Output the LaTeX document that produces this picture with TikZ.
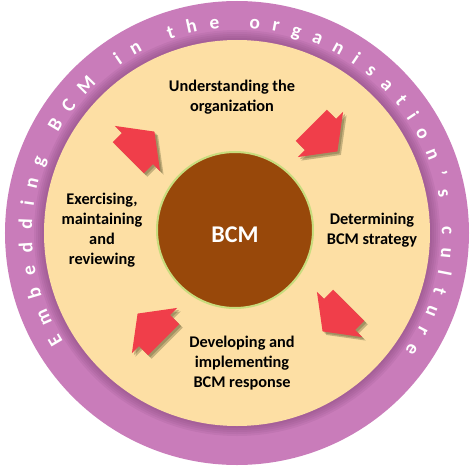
\documentclass[tikz,border=0pt]{standalone}
\usepackage{fontspec}
\setmainfont{Carlito}
\usetikzlibrary{decorations.text}

\definecolor{ringpurple}{RGB}{201,124,186}
\definecolor{ringshade}{RGB}{120,60,110}
\definecolor{discbeige}{RGB}{253,223,164}
\definecolor{corebrown}{RGB}{152,72,10}
\definecolor{coreedge}{RGB}{200,220,125}
\definecolor{arrowred}{RGB}{240,62,74}
\definecolor{arrowshade}{RGB}{95,90,50}

% block arrow pointing along +x, centred on its box
\newcommand\blockarrow{(-18,-22) -- (-5,-22) -- (-5,-32) -- (19,0) -- (-5,32) -- (-5,22) -- (-18,22) -- cycle}

\begin{document}
\begin{tikzpicture}[x=1pt, y=1pt,
    stage/.style={font=\bfseries\fontsize{16.3}{20}\selectfont, align=center, text=black},
    arrowbody/.style={fill=arrowred},
    arrowshadow/.style={fill=arrowshade, opacity=0.35}]
    \useasboundingbox (-237,-233) rectangle (237,233);
    % Ring and disc
    \fill[ringpurple] (0,0) circle (232);
    \foreach \k in {2,4,...,10}
        \fill[ringshade, opacity=0.1] (0,0) circle (193+\k);
    \fill[discbeige] (0,0) circle (193);
    % Ring text
    \path[decorate, decoration={text along path, text align=fit to path, text color=white,
        text={|\bfseries\fontsize{19.5}{19.5}\selectfont|Embedding BCM in the organisation's culture}}]
        (212:205) arc[start angle=212, end angle=-35, radius=205];
    % Core
    \node[circle, fill=corebrown, draw=coreedge, line width=2pt, minimum size=156pt] (core) at (-2,3) {};
    \node[text=white, font=\bfseries\fontsize{24}{24}\selectfont] (bcm) at (-2,-1.5) {BCM};
    % Stages
    \node[stage] (understand) at (-5,136) {Understanding the\\organization};
    \node[stage] (determine) at (135,3) {Determining\\BCM strategy};
    \node[stage] (develop) at (5,-130) {Developing and\\implementing\\BCM response};
    \node[stage] (exercise) at (-135,3) {Exercising,\\maintaining\\and\\reviewing};
    % Arrows
    \foreach \ax/\ay/\ang in {-96/88/45, 87/95/-45, 99/-85/-135, -86/-94/135} {
        \fill[arrowshadow, shift={(\ax+2,\ay-2)}, rotate=\ang] \blockarrow;
        \fill[arrowshadow, shift={(\ax+3.5,\ay-3.5)}, rotate=\ang] \blockarrow;
        \fill[arrowbody, shift={(\ax,\ay)}, rotate=\ang] \blockarrow;
    }
\end{tikzpicture}
\end{document}
